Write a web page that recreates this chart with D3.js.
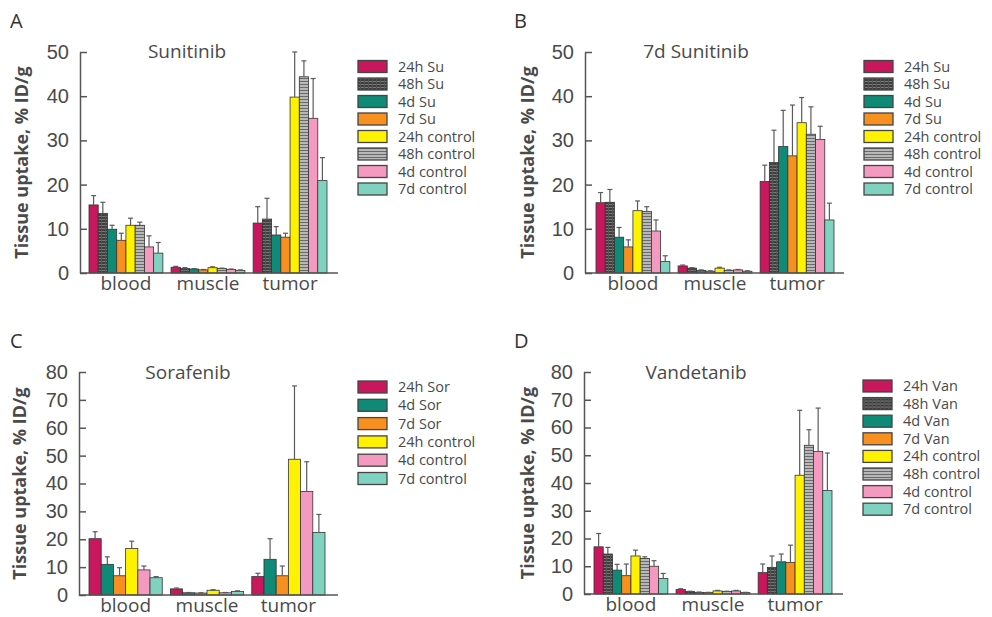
<!DOCTYPE html>
<html>
<head>
<meta charset="utf-8">
<script src="https://cdn.jsdelivr.net/npm/d3@7"></script>
<style>
  body { margin: 0; background: #fff; }
  svg { display: block; }
  .tick text { font-family: "Liberation Sans", Arial, sans-serif; }
</style>
</head>
<body>
<svg id="chart" width="992" height="617"></svg>
<script>
// ---- data ----
var categories = ["blood", "muscle", "tumor"];

var sunSeries = ["24h Su", "48h Su", "4d Su", "7d Su", "24h control", "48h control", "4d control", "7d control"];
var sorSeries = ["24h Sor", "4d Sor", "7d Sor", "24h control", "4d control", "7d control"];
var vanSeries = ["24h Van", "48h Van", "4d Van", "7d Van", "24h control", "48h control", "4d control", "7d control"];

var ticks50 = [0, 10, 20, 30, 40, 50];
var ticks80 = [0, 10, 20, 30, 40, 50, 60, 70, 80];

// A: Sunitinib  (rows = blood, muscle, tumor)
var sunitinibMean = [
  [15.4, 13.5, 9.9, 7.4, 10.8, 10.8, 5.9, 4.5],
  [1.3, 1.0, 0.9, 0.7, 1.2, 1.0, 0.8, 0.6],
  [11.3, 12.2, 8.6, 8.1, 39.8, 44.4, 35.0, 20.9]
];
var sunitinibSd = [
  [2.1, 2.5, 0.9, 1.6, 1.6, 0.7, 2.5, 2.4],
  [0.2, 0.2, 0.1, 0.1, 0.2, 0.1, 0.1, 0.1],
  [3.7, 4.7, 1.9, 0.9, 10.2, 3.6, 9.0, 5.2]
];

// B: 7d Sunitinib
var sunitinib7dMean = [
  [15.9, 16.0, 8.1, 5.9, 14.1, 13.9, 9.5, 2.6],
  [1.6, 1.1, 0.6, 0.4, 1.1, 0.6, 0.7, 0.4],
  [20.7, 25.0, 28.6, 26.5, 34.0, 31.4, 30.2, 12.0]
];
var sunitinib7dSd = [
  [2.3, 2.9, 2.2, 1.6, 2.2, 1.1, 2.5, 1.3],
  [0.2, 0.1, 0.1, 0.1, 0.2, 0.1, 0.1, 0.1],
  [3.7, 7.3, 8.2, 11.5, 5.7, 6.2, 3.0, 3.8]
];

// C: Sorafenib
var sorafenibMean = [
  [20.2, 11.0, 6.9, 16.7, 9.0, 6.2],
  [2.2, 0.8, 0.7, 1.7, 0.8, 1.3],
  [6.6, 12.8, 6.9, 48.7, 37.1, 22.4]
];
var sorafenibSd = [
  [2.5, 2.7, 2.9, 2.6, 1.4, 0.4],
  [0.3, 0.1, 0.1, 0.2, 0.1, 0.2],
  [1.2, 7.4, 3.5, 26.3, 10.7, 6.5]
];

// D: Vandetanib
var vandetanibMean = [
  [17.0, 14.4, 8.6, 6.6, 13.7, 12.8, 10.0, 5.6],
  [1.6, 0.9, 0.6, 0.5, 1.1, 0.9, 1.1, 0.5],
  [7.7, 9.6, 11.6, 11.4, 42.8, 53.6, 51.4, 37.3]
];
var vandetanibSd = [
  [4.8, 2.4, 2.1, 4.2, 2.1, 0.6, 2.0, 1.8],
  [0.3, 0.1, 0.1, 0.1, 0.2, 0.1, 0.2, 0.1],
  [3.1, 4.1, 2.8, 6.2, 23.4, 5.6, 15.6, 13.5]
];

// ---- styles ----
var fills = {
  drug24: "#c8175d",
  drug48: "url(#hatchDark)",
  drug4d: "#0e8a76",
  drug7d: "#f7901e",
  ctl24: "#fff200",
  ctl48: "url(#hatchLight)",
  ctl4d: "#f49ac1",
  ctl7d: "#7fd2c0"
};
var keys8 = ["drug24", "drug48", "drug4d", "drug7d", "ctl24", "ctl48", "ctl4d", "ctl7d"];
var keys6 = ["drug24", "drug4d", "drug7d", "ctl24", "ctl4d", "ctl7d"];

var textCol = "#4a4a4a";
var axisCol = "#555";

var svg = d3.select("#chart");
var defs = svg.append("defs");

// dark striped hatch for the 48h drug bars
var pd = defs.append("pattern").attr("id", "hatchDark")
  .attr("patternUnits", "userSpaceOnUse").attr("width", 4).attr("height", 3);
pd.append("rect").attr("width", 4).attr("height", 3).attr("fill", "#3e3e3e");
pd.append("rect").attr("y", 0).attr("width", 4).attr("height", 1).attr("fill", "#7a7a7a");
pd.append("rect").attr("x", 0).attr("width", 1).attr("height", 3).attr("fill", "#555");

// grey striped hatch for the 48h control bars
var pl = defs.append("pattern").attr("id", "hatchLight")
  .attr("patternUnits", "userSpaceOnUse").attr("width", 4).attr("height", 3);
pl.append("rect").attr("width", 4).attr("height", 3).attr("fill", "#b8b8b8");
pl.append("rect").attr("y", 0).attr("width", 4).attr("height", 1).attr("fill", "#6a6a6a");

var panels = [
  { letter: "A", title: "Sunitinib", series: sunSeries, keys: keys8, mean: sunitinibMean, sd: sunitinibSd,
    ticks: ticks50, yMax: 50, axisX: 80, xEnd: 338, barL: 89, barR: 327, y0: 273, yTop: 52,
    letterX: 10, letterY: 28, titleX: 187, titleY: 58, ylabX: 22,
    legX: 358, legTextX: 398, legY: 66.5, legStep: 17.5 },
  { letter: "B", title: "7d Sunitinib", series: sunSeries, keys: keys8, mean: sunitinib7dMean, sd: sunitinib7dSd,
    ticks: ticks50, yMax: 50, axisX: 585, xEnd: 844, barL: 596, barR: 834, y0: 273, yTop: 52,
    letterX: 514, letterY: 28, titleX: 696, titleY: 58, ylabX: 528,
    legX: 864, legTextX: 904, legY: 66.5, legStep: 17.5 },
  { letter: "C", title: "Sorafenib", series: sorSeries, keys: keys6, mean: sorafenibMean, sd: sorafenibSd,
    ticks: ticks80, yMax: 80, axisX: 79, xEnd: 338, barL: 89, barR: 325, y0: 595, yTop: 372,
    letterX: 10, letterY: 348, titleX: 188, titleY: 379, ylabX: 20,
    legX: 358, legTextX: 398, legY: 387, legStep: 18.3 },
  { letter: "D", title: "Vandetanib", series: vanSeries, keys: keys8, mean: vandetanibMean, sd: vandetanibSd,
    ticks: ticks80, yMax: 80, axisX: 584, xEnd: 843, barL: 594, barR: 832, y0: 594, yTop: 372,
    letterX: 514, letterY: 348, titleX: 696, titleY: 379, ylabX: 528,
    legX: 863, legTextX: 903, legY: 386, legStep: 17.6 }
];

panels.forEach(drawPanel);

function drawPanel(p) {
  var g = svg.append("g");

  var y = d3.scaleLinear().domain([0, p.yMax]).range([p.y0, p.yTop]);
  var x0 = d3.scaleBand().domain(categories).range([p.barL, p.barR])
    .paddingInner(0.1).paddingOuter(0);
  var x1 = d3.scaleBand().domain(p.series).range([0, x0.bandwidth()]);

  // bars + error bars
  categories.forEach(function(cat, ci) {
    var rows = p.series.map(function(s, si) {
      return { name: s, key: p.keys[si], v: p.mean[ci][si], e: p.sd[ci][si] };
    });
    var cg = g.append("g").attr("transform", "translate(" + x0(cat) + ",0)");

    cg.selectAll("rect.bar").data(rows).enter().append("rect")
      .attr("class", "bar")
      .attr("x", function(d) { return x1(d.name); })
      .attr("y", function(d) { return y(d.v); })
      .attr("width", x1.bandwidth())
      .attr("height", function(d) { return y(0) - y(d.v); })
      .attr("fill", function(d) { return fills[d.key]; })
      .attr("stroke", "#333").attr("stroke-width", 0.8);

    var eb = cg.selectAll("g.err").data(rows).enter().append("g").attr("class", "err")
      .attr("stroke", "#5a5a5a").attr("stroke-width", 1.2);
    eb.append("line")
      .attr("x1", function(d) { return x1(d.name) + x1.bandwidth() / 2; })
      .attr("x2", function(d) { return x1(d.name) + x1.bandwidth() / 2; })
      .attr("y1", function(d) { return y(d.v); })
      .attr("y2", function(d) { return y(d.v + d.e); });
    eb.append("line")
      .attr("x1", function(d) { return x1(d.name) + x1.bandwidth() / 2 - 2.5; })
      .attr("x2", function(d) { return x1(d.name) + x1.bandwidth() / 2 + 2.5; })
      .attr("y1", function(d) { return y(d.v + d.e); })
      .attr("y2", function(d) { return y(d.v + d.e); });
  });

  // y axis, ticks pointing inward
  var ya = g.append("g").attr("transform", "translate(" + p.axisX + ",0)")
    .call(d3.axisLeft(y).tickValues(p.ticks).tickSizeInner(-7).tickSizeOuter(0).tickPadding(11));
  ya.select(".domain").attr("stroke", axisCol).attr("stroke-width", 1.5);
  ya.selectAll(".tick line").attr("stroke", axisCol).attr("stroke-width", 1.5);
  ya.selectAll(".tick text").attr("fill", textCol).style("font-size", "20px");

  // x axis baseline + category labels
  g.append("line").attr("x1", p.axisX).attr("x2", p.xEnd).attr("y1", p.y0).attr("y2", p.y0)
    .attr("stroke", axisCol).attr("stroke-width", 1.5);
  var xa = g.append("g").attr("transform", "translate(0," + p.y0 + ")")
    .call(d3.axisBottom(x0).tickSize(0).tickPadding(3));
  xa.select(".domain").remove();
  xa.selectAll(".tick text").attr("fill", textCol)
    .style("font-family", "'Open Sans', sans-serif").style("font-size", "19px");

  // y axis title
  g.append("text")
    .attr("transform", "translate(" + p.ylabX + "," + (p.yTop + p.y0) / 2 + ") rotate(-90)")
    .attr("text-anchor", "middle").attr("dy", "0.35em")
    .attr("fill", textCol)
    .style("font-family", "'Open Sans', sans-serif").style("font-size", "18px").style("font-weight", 700)
    .text("Tissue uptake, % ID/g");

  // panel title and letter
  g.append("text").attr("x", p.titleX).attr("y", p.titleY).attr("text-anchor", "middle")
    .attr("fill", textCol)
    .style("font-family", "'Open Sans', sans-serif").style("font-size", "19px")
    .text(p.title);
  g.append("text").attr("x", p.letterX).attr("y", p.letterY)
    .attr("fill", "#333")
    .style("font-family", "'Open Sans', sans-serif").style("font-size", "20px")
    .text(p.letter);

  // legend
  var lg = g.selectAll("g.leg").data(p.series).enter().append("g").attr("class", "leg")
    .attr("transform", function(d, i) { return "translate(0," + (p.legY + i * p.legStep) + ")"; });
  lg.append("rect").attr("x", p.legX).attr("y", -6).attr("width", 29).attr("height", 12)
    .attr("fill", function(d, i) { return fills[p.keys[i]]; })
    .attr("stroke", "#444").attr("stroke-width", 1.3);
  lg.append("text").attr("x", p.legTextX).attr("y", 0).attr("dy", "0.35em")
    .attr("fill", textCol)
    .style("font-family", "'Open Sans', sans-serif").style("font-size", "14.5px")
    .text(function(d) { return d; });
}
</script>
</body>
</html>
